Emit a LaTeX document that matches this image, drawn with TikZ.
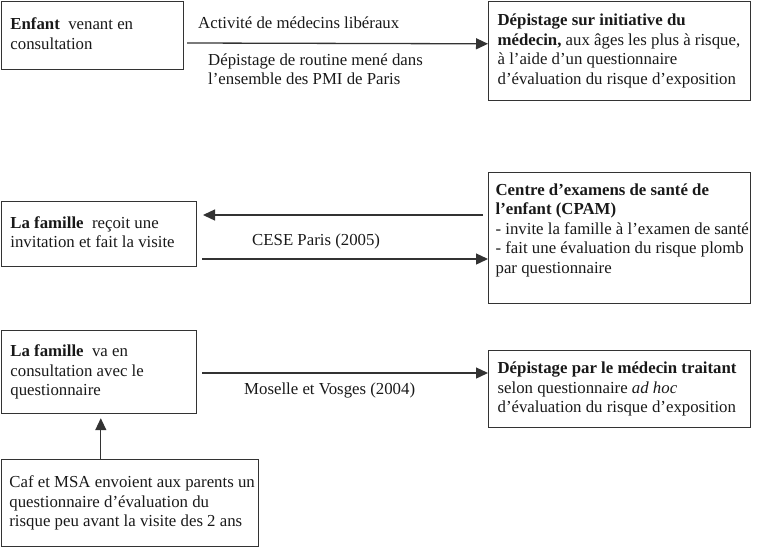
\documentclass[tikz,border=0pt]{standalone}
\usepackage{fontspec}
\setmainfont{Liberation Serif}
\usetikzlibrary{arrows.meta}
\newcommand{\bxt}[2]{\makebox[#1][l]{\begin{tabular}{@{}l@{}}#2\end{tabular}}}
\begin{document}
\begin{tikzpicture}[x=1pt,y=-1pt,
  every node/.style={font=\fontsize{16.8}{19.5}\selectfont, text=black!90},
  box/.style={draw=black!80, line width=1.2pt, inner xsep=9pt, inner ysep=0pt, anchor=north west},
  lab/.style={inner sep=0pt, anchor=base west},
  arr/.style={draw=black!80, line width=1.3pt, -{Triangle[length=12pt,width=11pt]}}]
\useasboundingbox (0,0) rectangle (757,547);

\node[box, minimum width=182pt, minimum height=68pt] (b1) at (0.8,0.8)
  {\bxt{164pt}{\textbf{Enfant}\ \ venant en\\ consultation}};
\node[box, minimum width=262pt, minimum height=99pt] (b2) at (488,0.8)
  {\bxt{244pt}{\textbf{Dépistage sur initiative du}\\ \textbf{médecin,} aux âges les plus à risque,\\ à l’aide d’un questionnaire\\ d’évaluation du risque d’exposition}};
\node[box, minimum width=195pt, minimum height=65pt] (b3) at (0.8,201)
  {\bxt{177pt}{\textbf{La famille}\ \ reçoit une\\ invitation et fait la visite}};
\node[box, inner xsep=7pt, inner ysep=9pt, minimum width=262pt, minimum height=131pt] (b4) at (488,172)
  {\parbox[c][113pt][t]{248pt}{\bxt{248pt}{\textbf{Centre d’examens de santé de}\\ \textbf{l’enfant (CPAM)}\\ - invite la famille à l’examen de santé\\ - fait une évaluation du risque plomb\\ par questionnaire}}};
\node[box, minimum width=195pt, minimum height=83pt] (b5) at (0.8,330)
  {\bxt{177pt}{\textbf{La famille}\ \ va en\\ consultation avec le\\ questionnaire}};
\node[box, minimum width=262pt, minimum height=77pt] (b6) at (488,350)
  {\bxt{244pt}{\textbf{Dépistage par le médecin traitant}\\ selon questionnaire \textit{ad hoc}\\ d’évaluation du risque d’exposition}};
\node[box, inner xsep=8pt, minimum width=257pt, minimum height=87pt] (b7) at (0.8,459)
  {\bxt{241pt}{Caf et MSA envoient aux parents un\\ questionnaire d’évaluation du\\ risque peu avant la visite des 2 ans}};

\node[lab] (l1) at (198,28) {Activité de médecins libéraux};
\node[lab] (l2) at (208,65) {\begin{tabular}[t]{@{}l@{}}Dépistage de routine mené dans\\ l’ensemble des PMI de Paris\end{tabular}};
\node[lab] (l3) at (252,245) {CESE Paris (2005)};
\node[lab] (l4) at (244,394) {Moselle et Vosges (2004)};

\draw[arr] ([xshift=3pt,yshift=-42.2pt]b1.north east) -- ([yshift=-43pt]b2.north west);
\draw[arr] ([xshift=-5pt,yshift=-43pt]b4.north west) -- ([xshift=6pt,yshift=-14pt]b3.north east);
\draw[arr] ([xshift=5pt,yshift=-58pt]b3.north east) -- ([yshift=-87pt]b4.north west);
\draw[arr] ([xshift=5pt,yshift=-43pt]b5.north east) -- ([yshift=-23pt]b6.north west);
\draw[arr] ([xshift=100pt]b7.north west) -- ([xshift=100pt,yshift=-4pt]b5.south west);
\end{tikzpicture}
\end{document}
